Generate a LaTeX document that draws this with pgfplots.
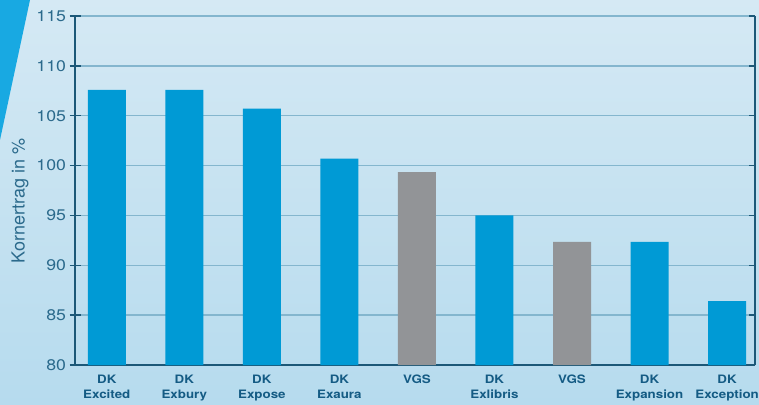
\documentclass[border=0pt]{standalone}
\usepackage{fontspec}
\setmainfont{TeX Gyre Heros}
\newfontfamily\widefont{TeX Gyre Heros}[FakeStretch=1.15]
\usepackage{pgfplots}
\pgfplotsset{compat=1.18}

\definecolor{barblue}{HTML}{009AD5}
\definecolor{bargray}{HTML}{929497}
\definecolor{axisblue}{HTML}{1C5878}
\definecolor{textblue}{HTML}{2B6A8C}
\definecolor{labelblue}{HTML}{145B84}
\definecolor{gridblue}{HTML}{84B6CE}
\definecolor{bgtop}{HTML}{D5E9F4}
\definecolor{bgbottom}{HTML}{B6DBEE}
\definecolor{wedge}{HTML}{18A9E2}

\begin{document}
\begin{tikzpicture}[x=1pt,y=1pt]
\useasboundingbox (0,0) rectangle (759,404);
\shade[top color=bgtop, bottom color=bgbottom] (0,0) rectangle (759,404);
\fill[wedge] (0,404) -- (30,404) -- (0,264) -- cycle;

\begin{axis}[
    at={(75pt,39pt)}, anchor=south west,
    scale only axis, width=680pt, height=349pt,
    ymin=80, ymax=115, ytick={80,85,...,115},
    xmin=-0.41, xmax=8.36,
    xtick={0,...,8},
    xticklabels={DK\\Excited, DK\\Exbury, DK\\Expose, DK\\Exaura, VGS,
                 DK\\Exlibris, VGS, DK\\Expansion, DK\\Exception},
    ybar, bar width=38pt,
    axis x line*=bottom, axis y line*=left,
    axis line style={axisblue, line width=1.5pt, -},
    ymajorgrids, grid style={gridblue, line width=1.3pt},
    xtick style={draw=none},
    ytick style={axisblue, line width=1.5pt},
    major tick length=11pt, tick align=center,
    /pgf/number format/assume math mode=true,
    yticklabel style={font=\widefont\fontsize{15.4}{16}\selectfont, text=textblue},
    xticklabel style={align=center, font=\widefont\fontsize{11.6}{15.5}\selectfont\bfseries,
                      text=labelblue, yshift=-1pt},
    ylabel={Kornertrag in \%},
    ylabel style={at={(axis description cs:-0.081,0.47)}, anchor=center,
                  font=\fontsize{18}{18}\selectfont, text=textblue},
]
\addplot[fill=barblue, draw=none, bar shift=0pt] coordinates {
    (0,107.6) (1,107.6) (2,105.7) (3,100.7) (5,95.0) (7,92.35) (8,86.4)
};
\addplot[fill=bargray, draw=none, bar shift=0pt] coordinates {
    (4,99.35) (6,92.35)
};
\end{axis}

\begin{axis}[
    at={(75pt,39pt)}, anchor=south west,
    scale only axis, width=680pt, height=349pt,
    ymin=80, ymax=115, ytick={80,85,...,115}, yticklabels={},
    xmin=-0.41, xmax=8.36,
    hide x axis, axis y line*=right,
    axis line style={axisblue, line width=1.5pt, -},
    ytick style={axisblue, line width=1.5pt},
    major tick length=6pt, tick align=inside,
]
\end{axis}
\end{tikzpicture}
\end{document}
